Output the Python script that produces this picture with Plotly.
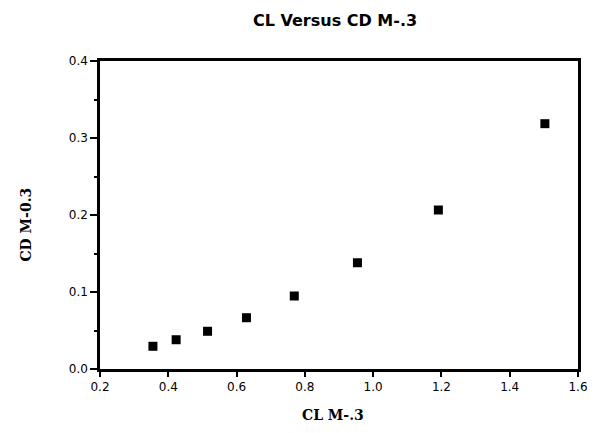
import plotly.graph_objects as go

cl = [0.355, 0.423, 0.515, 0.629, 0.769, 0.954, 1.191, 1.503]
cd = [0.0295, 0.038, 0.049, 0.0666, 0.0948, 0.138, 0.2065, 0.3186]

x_ticks = [0.2, 0.4, 0.6, 0.8, 1.0, 1.2, 1.4, 1.6]
x_ticklabels = ["0.2", "0.4", "0.6", "0.8", "1.0", "1.2", "1.4", "1.6"]
y_ticks = [0.0, 0.1, 0.2, 0.3, 0.4]
y_ticklabels = ["0.0", "0.1", "0.2", "0.3", "0.4"]

W, H = 595, 433
L, R, T, B = 91.5, 25, 53, 72

fig = go.Figure()
fig.add_trace(go.Scatter(
    x=cl, y=cd, mode="markers",
    marker=dict(symbol="square", size=9, color="black"),
    showlegend=False,
))

tickfont = dict(family="DejaVu Sans", size=12, color="black")

def axis(ticklen):
    return dict(
        showgrid=False, zeroline=False, automargin=False,
        showline=True, linecolor="black", linewidth=2.5, mirror=True,
        ticks="outside", ticklen=ticklen, tickwidth=2, tickcolor="black",
        tickfont=tickfont,
        minor=dict(ticks="outside", ticklen=3, tickwidth=1.5, tickcolor="black", nticks=2),
    )

fig.update_layout(
    width=W, height=H,
    margin=dict(l=L, r=R, t=T, b=B),
    paper_bgcolor="white", plot_bgcolor="white",
    xaxis=dict(range=[0.2, 1.6], tickvals=x_ticks, ticktext=x_ticklabels, **axis(5)),
    yaxis=dict(range=[0.0, 0.4], tickvals=y_ticks, ticktext=y_ticklabels, **axis(7)),
    annotations=[
        dict(text="<b>CL Versus CD M-.3</b>", xref="paper", yref="paper",
             x=(327 - L) / (W - L - R), y=1 + (T - 13) / (H - T - B),
             xanchor="center", yanchor="middle", showarrow=False,
             font=dict(family="DejaVu Sans", size=16, color="black")),
        dict(text="<b>CL M-.3</b>", xref="paper", yref="paper",
             x=(325 - L) / (W - L - R), y=-(407 - (H - B)) / (H - T - B),
             xanchor="center", yanchor="middle", showarrow=False,
             font=dict(family="DejaVu Serif", size=14, color="black")),
        dict(text="<b>CD M-0.3</b>", xref="paper", yref="paper",
             x=-(L - 17) / (W - L - R), y=((H - B) - 217) / (H - T - B),
             xanchor="center", yanchor="middle", showarrow=False, textangle=-90,
             font=dict(family="DejaVu Serif", size=14, color="black")),
    ],
)

fig.write_html("out.html")
